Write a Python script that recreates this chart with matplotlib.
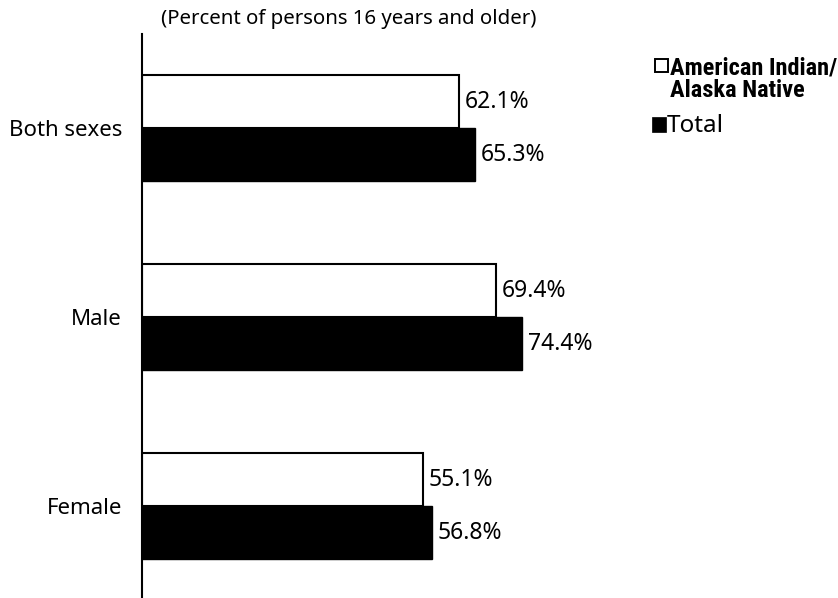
import matplotlib.pyplot as plt
from matplotlib import font_manager
from matplotlib.patches import Rectangle

plt.rcParams['font.family'] = ['Noto Sans', 'DejaVu Sans']

groups = ['Both sexes', 'Male', 'Female']
aian = [62.1, 69.4, 55.1]
total = [65.3, 74.4, 56.8]

# narrow bold face for the legend, whichever one is around
names = {f.name for f in font_manager.fontManager.ttflist}
narrow = next((n for n in ['Liberation Sans Narrow', 'Roboto Condensed', 'Open Sans Condensed',
                           'Noto Sans Condensed', 'DejaVu Sans Condensed'] if n in names), None)

W, H = 838, 598
fig = plt.figure(figsize=(W / 100, H / 100), dpi=100)
# left spine at x=142 px, spans y=34..598 px
ax = fig.add_axes([142 / W, 0, (838 - 142) / W, (598 - 34) / H])
ax.set_xlim(0, (838 - 142) / 5.107)
ax.set_ylim(2.487, -0.497)

bh = 0.28
fs = 16.5
for i, g in enumerate(groups):
    ax.barh(i - bh / 2, aian[i], height=bh, color='white', edgecolor='black', linewidth=1.5)
    ax.barh(i + bh / 2, total[i], height=bh, color='black', edgecolor='black', linewidth=1)
    ax.text(aian[i] + 1.1, i - bh / 2 + 0.005, f'{aian[i]:.1f}%', va='center', ha='left', fontsize=fs)
    ax.text(total[i] + 1.1, i + bh / 2 + 0.005, f'{total[i]:.1f}%', va='center', ha='left', fontsize=fs)

ax.set_yticks(range(len(groups)))
ax.set_yticklabels(groups, fontsize=16)
ax.tick_params(axis='y', length=0, pad=14.4)
ax.set_xticks([])
for s in ['top', 'right', 'bottom']:
    ax.spines[s].set_visible(False)
ax.spines['left'].set_linewidth(1.5)

fig.text(348.5 / W, 1 - 19 / H, '(Percent of persons 16 years and older)',
         ha='center', va='center', fontsize=14.7)

# legend
fig.patches.append(Rectangle((655 / W, 1 - 72 / H), 12.5 / W, 12.5 / H, transform=fig.transFigure,
                             facecolor='white', edgecolor='black', linewidth=1.4))
fig.patches.append(Rectangle((652 / W, 1 - 132 / H), 14 / W, 15 / H, transform=fig.transFigure,
                             facecolor='black', edgecolor='black', linewidth=0.5))
if narrow:
    lkw = dict(family=[narrow, 'DejaVu Sans'], fontsize=17.6)
else:
    lkw = dict(family='DejaVu Sans', fontstretch='condensed', fontsize=14.5)
fig.text(670 / W, 1 - 75 / H, 'American Indian/', fontweight='bold', va='baseline', ha='left', **lkw)
fig.text(670 / W, 1 - 97 / H, 'Alaska Native', fontweight='bold', va='baseline', ha='left', **lkw)
fig.text(667 / W, 1 - 132 / H, 'Total', fontsize=17.5, va='baseline', ha='left')

fig.savefig('out.png', dpi=100)
